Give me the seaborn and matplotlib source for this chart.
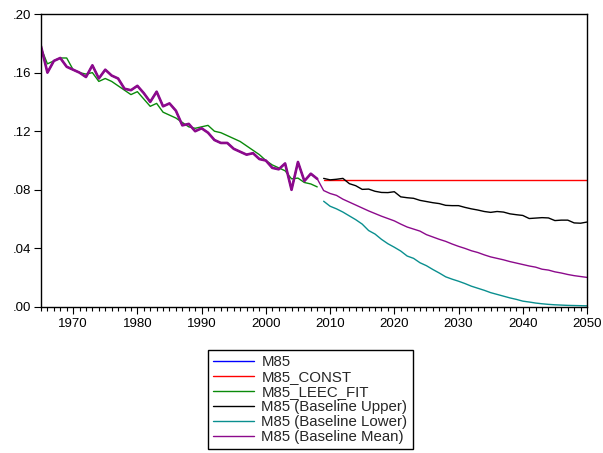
import numpy as np
import pandas as pd
import matplotlib
matplotlib.use("Agg")
import matplotlib.pyplot as plt
import seaborn as sns
from matplotlib.ticker import MultipleLocator, FuncFormatter

# ---------------- data ----------------
hist_years = list(range(1965, 2009))
m85 = [.178, .160, .168, .170, .164, .162, .160, .157, .165, .156,
       .162, .158, .156, .149, .148, .151, .146, .140, .147, .137,
       .139, .134, .124, .125, .120, .122, .119, .114, .112, .112,
       .108, .106, .104, .105, .101, .100, .095, .094, .098, .080,
       .099, .086, .091, .0875]
leec_fit = [.177, .166, .168, .170, .170, .162, .160, .159, .160, .154,
            .156, .154, .151, .148, .145, .147, .142, .137, .139, .133,
            .131, .129, .126, .123, .122, .123, .124, .120, .119, .117,
            .115, .113, .110, .107, .104, .100, .097, .095, .093, .0875,
            .088, .085, .084, .082]

fc_years = list(range(2009, 2051))
const_value = 0.0867
upper = [.0878, .0868, .0872, .0878, .0842, .0828, .0803, .0805, .0790, .0782,
         .0781, .0787, .0752, .0746, .0742, .0728, .0720, .0712, .0706, .0694,
         .0692, .0692, .0680, .0670, .0662, .0652, .0646, .0652, .0648, .0636,
         .0630, .0625, .0604, .0607, .0610, .0608, .0590, .0593, .0593, .0574,
         .0572, .0580]
lower = [.0722, .0688, .0670, .0648, .0622, .0596, .0566, .0522, .0498, .0462,
         .0432, .0408, .0382, .0348, .0332, .0302, .0282, .0256, .0232, .0206,
         .0190, .0176, .0160, .0142, .0128, .0114, .0098, .0086, .0074, .0062,
         .0052, .0040, .0034, .0027, .0022, .0018, .0015, .0013, .0011, .0010,
         .0009, .0008]
mean_fc = [.0795, .0775, .0762, .0736, .0716, .0696, .0676, .0656, .0638, .0620,
           .0604, .0588, .0566, .0546, .0532, .0518, .0494, .0478, .0462, .0448,
           .0430, .0414, .0400, .0384, .0372, .0356, .0342, .0332, .0322, .0310,
           .0300, .0290, .0280, .0272, .0258, .0252, .0240, .0232, .0222, .0214,
           .0208, .0202]

# ---------------- plot ----------------
sns.set_theme(style="white")
plt.rcParams['font.family'] = ['Liberation Sans', 'DejaVu Sans']

fig = plt.figure(figsize=(6.03, 4.53), dpi=100)
ax = fig.add_axes([0.068, 0.3223, 0.9055, 0.6467])

df_hist = pd.DataFrame({"year": hist_years, "m85": m85, "fit": leec_fit})
df_fc = pd.DataFrame({"year": fc_years, "const": [const_value] * len(fc_years),
                      "upper": upper, "lower": lower, "mean": mean_fc})
df_mean = pd.DataFrame({"year": hist_years + fc_years, "mean": m85 + mean_fc})

purple = "#8c0a8c"
sns.lineplot(data=df_hist, x="year", y="m85", ax=ax, color="#0000ff", lw=1.0, label="M85")
sns.lineplot(data=df_fc, x="year", y="const", ax=ax, color="#ff0000", lw=1.0, label="M85_CONST")
sns.lineplot(data=df_hist, x="year", y="fit", ax=ax, color="#0a8a0a", lw=1.0, label="M85_LEEC_FIT")
sns.lineplot(data=df_fc, x="year", y="upper", ax=ax, color="#000000", lw=1.0, label="M85 (Baseline Upper)")
sns.lineplot(data=df_fc, x="year", y="lower", ax=ax, color="#0a8f8f", lw=1.0, label="M85 (Baseline Lower)")
sns.lineplot(data=df_mean, x="year", y="mean", ax=ax, color=purple, lw=1.0, label="M85 (Baseline Mean)")
sns.lineplot(data=df_hist, x="year", y="m85", ax=ax, color=purple, lw=1.9, legend=False)

ax.set_xlim(1965, 2050)
ax.set_ylim(0, 0.20)
ax.set_xlabel("")
ax.set_ylabel("")
ax.xaxis.set_major_locator(MultipleLocator(10))
ax.xaxis.set_minor_locator(MultipleLocator(1))
ax.yaxis.set_major_locator(MultipleLocator(0.04))
ax.yaxis.set_major_formatter(FuncFormatter(lambda v, p: ("%.2f" % v)[1:] if v >= 0 else "%.2f" % v))
ax.tick_params(axis="x", which="major", direction="out", length=5, width=0.8,
               colors="black", labelsize=9.5, pad=3, bottom=True)
ax.tick_params(axis="x", which="minor", direction="out", length=3, width=0.8,
               colors="black", bottom=True)
ax.tick_params(axis="y", which="major", direction="out", length=5, width=0.8,
               colors="black", labelsize=9.5, pad=2, left=True)
for s in ax.spines.values():
    s.set_color("black")
    s.set_linewidth(1.0)
    s.set_visible(True)

handles, labels = ax.get_legend_handles_labels()
if ax.legend_:
    ax.legend_.remove()
leg = fig.legend(handles[:6], labels[:6], loc="upper left",
                 bbox_to_anchor=(0.345, 0.227), fontsize=10.8, frameon=True,
                 fancybox=False, edgecolor="black", framealpha=1,
                 handlelength=2.7, handletextpad=0.5, labelspacing=0.06,
                 borderpad=0.35, borderaxespad=0.0)
leg.get_frame().set_linewidth(1.0)

fig.savefig("out.png", dpi=100)
